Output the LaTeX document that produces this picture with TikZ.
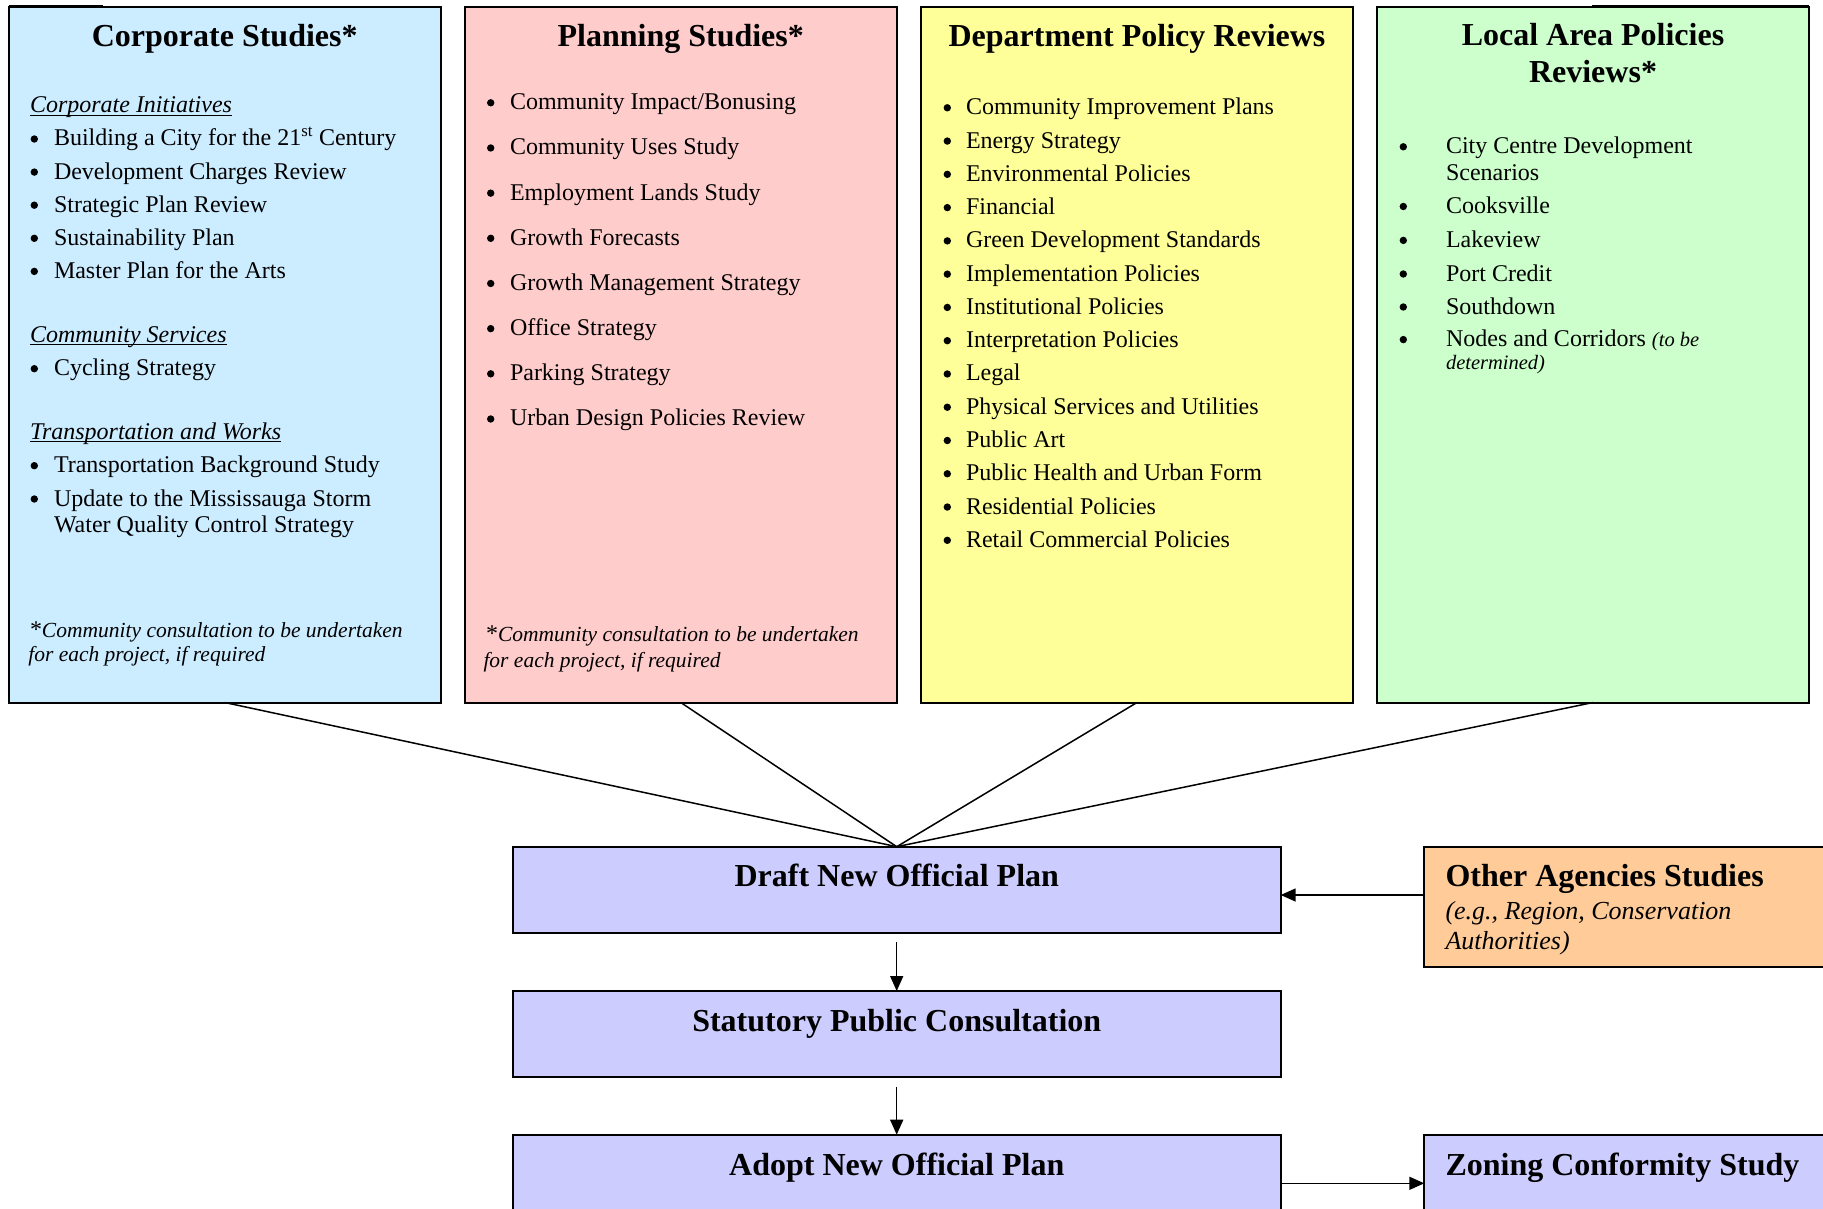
\documentclass[tikz,border=0pt]{standalone}
\usepackage{fontspec}
\setmainfont{Liberation Serif}
\usetikzlibrary{arrows.meta}

\definecolor{corpBlue}{RGB}{204,236,255}
\definecolor{planPink}{RGB}{255,204,204}
\definecolor{deptYellow}{RGB}{255,255,153}
\definecolor{localGreen}{RGB}{204,255,204}
\definecolor{stepLav}{RGB}{204,204,255}
\definecolor{agencyOrange}{RGB}{255,204,153}

\newcommand{\bodyfont}{\fontsize{24pt}{29pt}\selectfont}
\newcommand{\headfont}{\fontsize{32pt}{38pt}\selectfont\bfseries}
\newcommand{\notefont}{\fontsize{21.5pt}{25pt}\selectfont\itshape}
\newcommand{\subfont}{\fontsize{26pt}{30pt}\selectfont\itshape}
\newcommand{\smallit}{\fontsize{20.5pt}{24pt}\selectfont\itshape}

% bullet item: name, bullet x, text x, baseline y, text
\newcommand{\bitem}[5]{%
  \fill (#2,#4-7) circle[radius=3.7pt];
  \node[txt] (#1) at (#3,#4) {#5};}

\begin{document}
\begin{tikzpicture}[x=1pt,y=-1pt,
  panel/.style={draw=black, line width=2pt, rectangle, inner sep=0pt,
    outer sep=0pt, anchor=north west},
  txt/.style={inner sep=0pt, outer sep=0pt, font=\bodyfont, anchor=base west},
  head/.style={inner sep=0pt, outer sep=0pt, font=\headfont, anchor=base},
  conn/.style={line width=1.5pt},
  arr/.style={line width=1.5pt, -{Triangle[length=15pt,width=13pt]}},
  uline/.style={line width=1.3pt}]

\useasboundingbox (0,0) rectangle (1823,1209);
\fill[white] (0,0) rectangle (1823,1209);
\clip (0,0) rectangle (1823,1209);

% ---- four study panels ----
\node[panel, fill=corpBlue, minimum width=432.5pt, minimum height=695pt] (b1) at (8.5,7.5) {};
\node[panel, fill=planPink, minimum width=432.5pt, minimum height=695pt] (b2) at (464.5,7.5) {};
\node[panel, fill=deptYellow, minimum width=432.5pt, minimum height=695pt] (b3) at (920.7,7.5) {};
\node[panel, fill=localGreen, minimum width=432.5pt, minimum height=695pt] (b4) at (1376.8,7.5) {};
\draw[line width=1pt] (8.5,5.5) -- (103,5.5);
\draw[line width=1pt] (1592,5.5) -- (1809,5.5);

% ---- process boxes ----
\node[panel, fill=stepLav, minimum width=768pt, minimum height=86pt] (draft) at (512.7,846.7) {};
\node[panel, fill=stepLav, minimum width=768pt, minimum height=86pt] (stat) at (512.7,991) {};
\node[panel, fill=stepLav, minimum width=768pt, minimum height=110pt] (adopt) at (512.7,1134.7) {};
\node[panel, fill=agencyOrange, minimum width=430pt, minimum height=120pt] (other) at (1424.3,846.7) {};
\node[panel, fill=stepLav, minimum width=430pt, minimum height=110pt] (zoning) at (1424.3,1134.7) {};

% ---- Corporate Studies ----
\node[head] (t1) at (224.75,46.5) {Corporate Studies*};
\node[txt, font=\bodyfont\itshape] (ci) at (30,112.7) {Corporate Initiatives};
\draw[uline] ([yshift=-2.5pt]ci.base west) -- ([yshift=-2.5pt]ci.base east);
\bitem{c1}{34.3}{54}{146}{Building a City for the 21\textsuperscript{st} Century}
\bitem{c2}{34.3}{54}{179.1}{Development Charges Review}
\bitem{c3}{34.3}{54}{212.2}{Strategic Plan Review}
\bitem{c4}{34.3}{54}{245.3}{Sustainability Plan}
\bitem{c5}{34.3}{54}{278.4}{Master Plan for the Arts}
\node[txt, font=\bodyfont\itshape] (cs) at (30,342.3) {Community Services};
\draw[uline] ([yshift=-2.5pt]cs.base west) -- ([yshift=-2.5pt]cs.base east);
\bitem{c6}{34.3}{54}{375.7}{Cycling Strategy}
\node[txt, font=\bodyfont\itshape] (tw) at (30,439.3) {Transportation and Works};
\draw[uline] ([yshift=-2.5pt]tw.base west) -- ([yshift=-2.5pt]tw.base east);
\bitem{c7}{34.3}{54}{472.7}{Transportation Background Study}
\bitem{c8}{34.3}{54}{506}{Update to the Mississauga Storm}
\node[txt] (c8b) at (54,532.7) {Water Quality Control Strategy};
\node[txt] (cn1) at (30,637.3) {*{\notefont Community consultation to be undertaken}};
\node[txt, font=\notefont] (cn2) at (28.3,661.7) {for each project, if required};

% ---- Planning Studies ----
\node[head] (t2) at (680.75,46.5) {Planning Studies*};
\foreach \t [count=\i from 0] in {{Community Impact/Bonusing},{Community Uses Study},
    {Employment Lands Study},{Growth Forecasts},{Growth Management Strategy},
    {Office Strategy},{Parking Strategy},{Urban Design Policies Review}}{
  \bitem{p\i}{490.7}{510}{109.8+45.17*\i}{\t}
}
\node[txt] (pn1) at (486,641.8) {*{\notefont Community consultation to be undertaken}};
\node[txt, font=\notefont] (pn2) at (483.5,667) {for each project, if required};

% ---- Department Policy Reviews ----
\node[head] (t3) at (1137,46.5) {Department Policy Reviews};
\foreach \t [count=\i from 0] in {{Community Improvement Plans},{Energy Strategy},
    {Environmental Policies},{Financial},{Green Development Standards},
    {Implementation Policies},{Institutional Policies},{Interpretation Policies},
    {Legal},{Physical Services and Utilities},{Public Art},
    {Public Health and Urban Form},{Residential Policies},{Retail Commercial Policies}}{
  \bitem{d\i}{947.3}{966}{114.8+33.27*\i}{\t}
}

% ---- Local Area Policies Reviews ----
\node[head] (t4a) at (1593,46) {Local Area Policies};
\node[head] (t4b) at (1593,82.6) {Reviews*};
\bitem{l1}{1403.3}{1446}{153.8}{City Centre Development}
\node[txt] (l1b) at (1446,180.4) {Scenarios};
\bitem{l2}{1403.3}{1446}{213.5}{Cooksville}
\bitem{l3}{1403.3}{1446}{247.4}{Lakeview}
\bitem{l4}{1403.3}{1446}{281}{Port Credit}
\bitem{l5}{1403.3}{1446}{314}{Southdown}
\bitem{l6}{1403.3}{1446}{346.6}{Nodes and Corridors {\smallit (to be}}
\node[txt, font=\smallit] (l6b) at (1446,369.6) {determined)};

% ---- process box labels ----
\node[head] (draftlbl) at (896.75,886.7) {Draft New Official Plan};
\node[head] (statlbl) at (896.75,1031) {Statutory Public Consultation};
\node[head] (adoptlbl) at (896.75,1175.5) {Adopt New Official Plan};
\node[head, anchor=base west] (otherlbl) at (1445.5,886.7) {Other Agencies Studies};
\node[txt, font=\subfont] (othera) at (1445.5,919.2) {(e.g., Region, Conservation};
\node[txt, font=\subfont] (otherb) at (1445.5,949.5) {Authorities)};
\node[head, anchor=base west] (zonlbl) at (1445.5,1175.5) {Zoning Conformity Study};

% ---- connectors ----
\foreach \b in {b1,b2,b3,b4}{
  \draw[conn] (\b.south) -- (draft.north);
}
\draw[arr, shorten <=9.6pt] (draft.south) -- (stat.north);
\draw[arr, shorten <=9.6pt] (stat.south) -- (adopt.north);
\coordinate (agy) at (0,895);
\draw[arr] (other.west |- agy) -- (draft.east |- agy);
\coordinate (zny) at (0,1183.3);
\draw[arr] (adopt.east |- zny) -- (zoning.west |- zny);

\end{tikzpicture}
\end{document}
